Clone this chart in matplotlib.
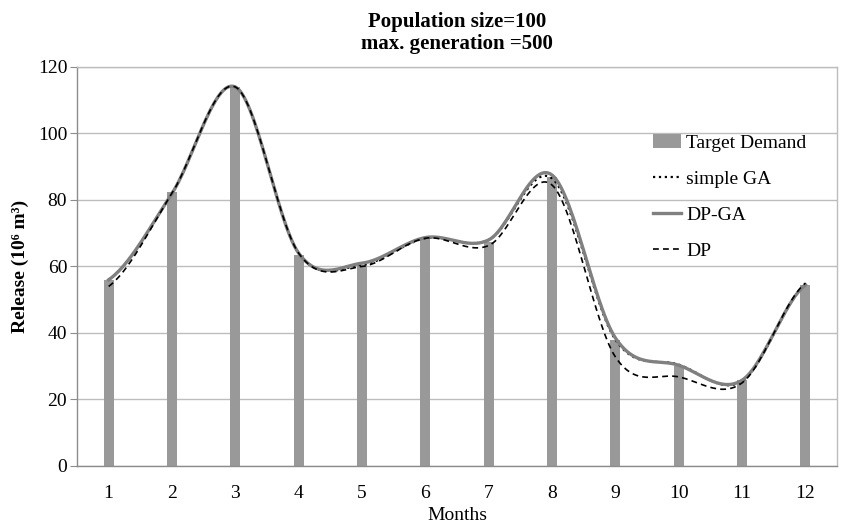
import numpy as np
import matplotlib
matplotlib.use("Agg")
import matplotlib.pyplot as plt

plt.rcParams['font.family'] = ['Liberation Serif', 'DejaVu Serif']

# 월별 데이터
months = [1, 2, 3, 4, 5, 6, 7, 8, 9, 10, 11, 12]
target_demand = [56, 82.5, 114, 63.5, 60.5, 68.5, 67.5, 87, 38, 30, 26, 54.5]
simple_ga = [56, 82, 114, 64, 60.5, 68.5, 68, 86.5, 38, 30.5, 25.5, 54.5]
dp_ga = [56, 82, 114, 64, 61, 68.7, 68, 87.5, 38.5, 30.3, 25.8, 54.5]
dp = [54, 82, 114, 64, 60, 68.5, 66.3, 84.5, 32.8, 26.8, 25, 55]


def smooth(x, y, n=30):
    # 엑셀 스타일 부드러운 선 (Catmull-Rom)
    x = np.asarray(x, float)
    y = np.asarray(y, float)
    m = np.zeros_like(y)
    m[1:-1] = (y[2:] - y[:-2]) / 2
    m[0] = (y[1] - y[0]) / 2
    m[-1] = (y[-1] - y[-2]) / 2
    xs, ys = [], []
    for i in range(len(x) - 1):
        t = np.linspace(0, 1, n, endpoint=(i == len(x) - 2))
        h00 = 2 * t**3 - 3 * t**2 + 1
        h10 = t**3 - 2 * t**2 + t
        h01 = -2 * t**3 + 3 * t**2
        h11 = t**3 - t**2
        xs.append(x[i] + t * (x[i + 1] - x[i]))
        ys.append(h00 * y[i] + h10 * m[i] + h01 * y[i + 1] + h11 * m[i + 1])
    return np.concatenate(xs), np.concatenate(ys)


fig = plt.figure(figsize=(8.43, 5.25), dpi=100)
ax = fig.add_axes([0.0913, 0.1124, 0.9017, 0.76])

bars = ax.bar(months, target_demand, width=0.16, color='#999999', label='Target Demand', zorder=2)
sx, sy = smooth(months, simple_ga)
l1, = ax.plot(sx, sy, color='black', linestyle=':', linewidth=1.6, label='simple GA', zorder=3)
sx, sy = smooth(months, dp_ga)
l2, = ax.plot(sx, sy, color='#808080', linewidth=2.4, label='DP-GA', zorder=3)
sx, sy = smooth(months, dp)
l3, = ax.plot(sx, sy, color='black', linestyle=(0, (3.5, 2.5)), linewidth=1.2, label='DP', zorder=4)

ax.set_xlim(0.5, 12.5)
ax.set_ylim(0, 120)
ax.set_yticks(range(0, 121, 20))
ax.set_xticks(months)
ax.grid(True, axis='y', color='#bdbdbd', linewidth=1.0, zorder=0)
ax.set_axisbelow(True)
for s in ax.spines.values():
    s.set_color('#8c8c8c')
    s.set_linewidth(1.0)
ax.spines['top'].set_color('#bdbdbd')
ax.spines['right'].set_color('#bdbdbd')
ax.tick_params(axis='y', length=5, color='#8c8c8c', labelsize=14, pad=2)
ax.tick_params(axis='x', length=0, labelsize=14, pad=14)

ax.set_xlabel('Months', fontsize=14, labelpad=3)
ax.set_ylabel('Release (10\u2076 m\u00b3)', fontsize=14, fontweight='bold', labelpad=6)
ax.set_title('Population size=100\nmax. generation =500', fontsize=15, fontweight='bold',
             linespacing=1.15, pad=13)

ax.legend([bars, l1, l2, l3], ['Target Demand', 'simple GA', 'DP-GA', 'DP'],
          loc='upper left', bbox_to_anchor=(0.735, 0.875), frameon=False, fontsize=14,
          handlelength=1.45, labelspacing=0.95, handletextpad=0.25)

fig.savefig('out.png', dpi=100)
